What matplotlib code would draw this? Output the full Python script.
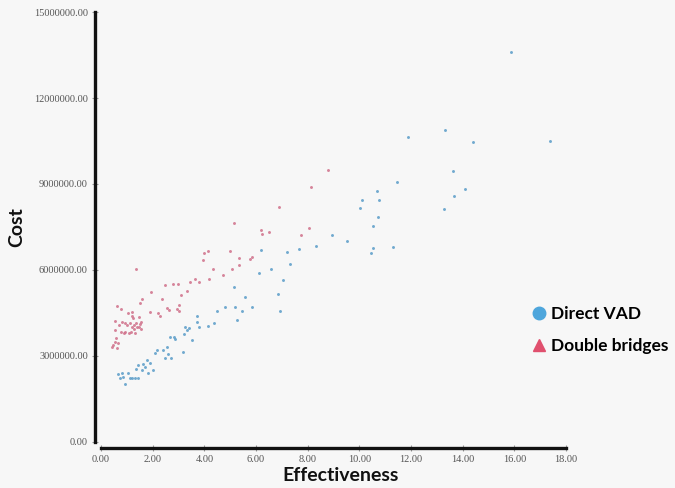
import matplotlib
matplotlib.use("Agg")
import matplotlib.pyplot as plt
from matplotlib.lines import Line2D
from matplotlib.ticker import FormatStrFormatter

# Direct VAD (effectiveness, cost in millions)
direct_x = [15.87, 17.38, 13.32, 11.89, 14.40, 13.63, 14.09, 13.67, 13.28, 11.46,
            10.69, 10.10, 10.76, 10.03, 10.72, 10.53, 8.94, 8.32, 9.52, 10.53,
            10.45, 11.30, 7.67, 6.19, 7.20, 7.32, 6.58, 6.12, 7.05, 6.85,
            6.93, 5.15, 5.57, 5.85, 5.19, 5.46, 4.80, 4.49, 5.27, 4.37,
            4.14, 3.72, 3.72, 3.79, 3.25, 3.41, 3.33, 3.21, 3.52, 2.67,
            2.83, 2.86, 2.56, 2.17, 2.40, 2.09, 2.59, 2.48, 2.71, 1.78,
            1.90, 1.63, 1.43, 1.36, 1.59, 1.70, 1.05, 1.20, 1.32, 1.12,
            0.85, 0.74, 0.81, 0.93, 1.82, 2.01, 1.43, 3.17, 0.66]
direct_cost_m = [13.60, 10.50, 10.88, 10.64, 10.46, 9.45, 8.82, 8.58, 8.13, 9.07,
                 8.75, 8.44, 8.44, 8.16, 7.85, 7.53, 7.22, 6.84, 7.01, 6.77,
                 6.59, 6.80, 6.73, 6.70, 6.63, 6.21, 6.03, 5.89, 5.65, 5.16,
                 4.57, 5.41, 5.06, 4.71, 4.71, 4.57, 4.71, 4.57, 4.26, 4.15,
                 4.05, 4.39, 4.19, 4.01, 4.01, 3.98, 3.91, 3.77, 3.56, 3.66,
                 3.66, 3.59, 3.31, 3.21, 3.21, 3.10, 3.07, 2.93, 2.93, 2.86,
                 2.76, 2.72, 2.69, 2.55, 2.51, 2.62, 2.41, 2.23, 2.23, 2.23,
                 2.27, 2.23, 2.41, 2.02, 2.41, 2.51, 2.23, 3.14, 2.37]

# Double bridges (effectiveness, cost in millions)
double_x = [8.79, 8.13, 6.89, 8.05, 7.74, 5.15, 6.19, 6.23, 6.50, 3.99,
            4.14, 3.95, 4.99, 5.34, 5.34, 5.77, 5.85, 4.34, 5.07, 4.72,
            4.18, 1.35, 2.48, 2.79, 2.98, 3.45, 3.64, 3.79, 1.94, 3.33,
            3.10, 2.36, 1.59, 1.51, 3.02, 2.63, 3.02, 2.21, 2.28, 1.90,
            1.47, 1.20, 1.24, 0.77, 1.05, 1.20, 0.54, 0.70, 0.81, 0.93,
            1.01, 1.12, 1.28, 1.36, 1.47, 1.55, 0.89, 0.77, 0.93, 1.08,
            1.16, 0.58, 0.54, 0.66, 0.46, 0.43, 0.62, 0.54, 1.32, 1.20,
            1.28, 1.39, 1.51, 1.55, 2.56, 2.94, 0.62]
double_cost_m = [9.49, 8.89, 8.20, 7.46, 7.22, 7.64, 7.39, 7.26, 7.32, 6.59,
                 6.66, 6.35, 6.66, 6.42, 6.17, 6.38, 6.45, 6.03, 6.03, 5.82,
                 5.69, 6.03, 5.48, 5.51, 5.51, 5.58, 5.69, 5.58, 5.23, 5.27,
                 5.13, 4.99, 4.99, 4.85, 4.78, 4.60, 4.57, 4.50, 4.39, 4.53,
                 4.36, 4.53, 4.33, 4.64, 4.50, 4.39, 4.22, 4.08, 4.19, 4.15,
                 4.08, 4.15, 4.08, 4.15, 4.01, 4.19, 3.80, 3.84, 3.84, 3.80,
                 3.84, 3.63, 3.49, 3.45, 3.38, 3.31, 3.28, 3.91, 3.80, 4.01,
                 3.94, 4.01, 4.12, 3.94, 4.67, 4.64, 4.74]

series_names = ["Direct VAD", "Double bridges"]
x_ticks = [0, 2, 4, 6, 8, 10, 12, 14, 16, 18]
y_ticks = [0, 3000000, 6000000, 9000000, 12000000, 15000000]

bg = "#f7f7f7"
blue = "#4ea6dc"
red = "#e0506e"

fig = plt.figure(figsize=(6.75, 4.88), dpi=100, facecolor=bg)
ax = fig.add_axes([0.1496, 0.0943, 0.6889, 0.8811], facecolor=bg)

ax.scatter(direct_x, [v * 1e6 for v in direct_cost_m], s=4.5, c="#5a9cc8",
           marker="o", linewidths=0, alpha=0.85, zorder=3)
ax.scatter(double_x, [v * 1e6 for v in double_cost_m], s=4.5, c="#d0708a",
           marker="o", linewidths=0, alpha=0.85, zorder=3)

ax.set_xlim(0, 18)
ax.set_ylim(0, 15000000)
ax.set_xticks(x_ticks)
ax.set_yticks(y_ticks)
ax.xaxis.set_major_formatter(FormatStrFormatter("%.2f"))
ax.yaxis.set_major_formatter(FormatStrFormatter("%.2f"))

for s in ["top", "right"]:
    ax.spines[s].set_visible(False)
for s in ["left", "bottom"]:
    ax.spines[s].set_linewidth(2.4)
    ax.spines[s].set_color("#111111")
    ax.spines[s].set_position(("outward", 4))

ax.tick_params(axis="both", direction="inout", length=5, width=0.8,
               color="#999999", labelcolor="#555555", labelsize=7.5, pad=3)
for lab in ax.get_xticklabels() + ax.get_yticklabels():
    lab.set_fontfamily("Liberation Serif")

ax.set_xlabel("Effectiveness", fontsize=14, fontweight="bold",
              family="Lato", color="#111111")
ax.xaxis.set_label_coords(0.515, -0.058)
ax.set_ylabel("Cost", fontsize=14, fontweight="bold",
              family="Lato", color="#111111", labelpad=6)

handles = [Line2D([], [], marker="o", color=blue, linestyle="none", markersize=9),
           Line2D([], [], marker="^", color=red, linestyle="none", markersize=9)]
ax.legend(handles, series_names, loc="center left",
          bbox_to_anchor=(0.763, 0.324), bbox_transform=fig.transFigure,
          frameon=False, handlelength=1.0, handletextpad=0.15, labelspacing=0.95,
          prop={"family": "Lato", "weight": "bold", "size": 12.5})

fig.savefig("out.png", dpi=100, facecolor=bg)
